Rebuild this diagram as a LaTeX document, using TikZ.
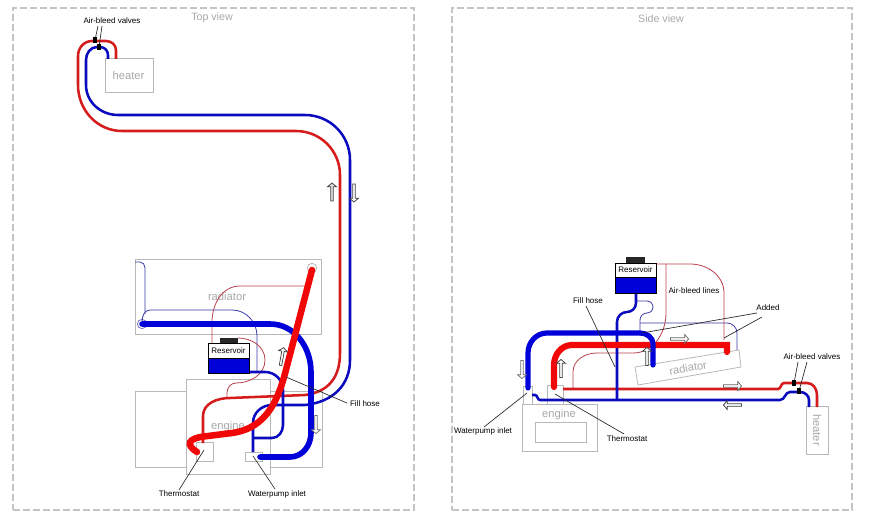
\documentclass[tikz,border=0pt]{standalone}
\usepackage{fontspec}
\setmainfont{Liberation Sans}
\usetikzlibrary{fit,shapes.arrows}
\definecolor{hosered}{HTML}{D41C1C}
\definecolor{hoseblue}{HTML}{0A0ABE}
\definecolor{fatred}{HTML}{F00808}
\definecolor{fatblue}{HTML}{0000D8}
\definecolor{thinred}{HTML}{B8404A}
\definecolor{thinblue}{HTML}{3A3AA8}
\definecolor{boxgray}{HTML}{B8B8B8}
\definecolor{framegray}{HTML}{C4C4C4}
\definecolor{txtgray}{HTML}{A8A8A8}
\tikzset{
  frame/.style={draw=framegray,line width=1.05pt,dash pattern=on 5.3pt off 2.2pt},
  graybox/.style={draw=boxgray,line width=0.6pt,inner sep=0pt},
  graytext/.style={text=txtgray,font=\fontsize{8.4}{9}\selectfont,inner sep=0pt},
  title/.style={text=txtgray,font=\fontsize{8}{9}\selectfont,inner sep=0pt},
  lbl/.style={text=black,font=\fontsize{6}{7}\selectfont,inner sep=0pt},
  leader/.style={draw=black!85,line width=0.5pt},
  medred/.style={draw=hosered,line width=1.9pt},
  medblue/.style={draw=hoseblue,line width=1.9pt},
  thickred/.style={draw=fatred,line width=4.6pt,line cap=round},
  thickblue/.style={draw=fatblue,line width=3.9pt,line cap=round},
  thinr/.style={draw=thinred,line width=0.6pt},
  thinb/.style={draw=thinblue,line width=0.6pt},
  resbox/.style={draw=black,line width=0.7pt,inner sep=0pt,fill=white},
  resfill/.style={draw=black,line width=0.7pt,inner sep=0pt,fill=fatblue},
  reslid/.style={fill=black!85,inner sep=0pt},
  valve/.style={fill=black,inner sep=0pt,minimum width=2.4pt,minimum height=4.4pt},
  blockarrow/.style={single arrow,draw=black!75,fill=white,line width=0.55pt,inner sep=0pt,
    minimum height=13.5pt,minimum width=6.6pt,single arrow head extend=0.7pt,single arrow tip angle=100},
}
\begin{document}
\begin{tikzpicture}[x=0.75pt,y=-0.75pt]
\useasboundingbox (0,0) rectangle (882,520);
% frames
\node[frame,inner sep=0pt,fit={(13,8)(414,510)}] (leftframe) {};
\node[frame,inner sep=0pt,fit={(452,8)(852,510)}] (rightframe) {};
\node[title] (toptitle) at (212,18) {Top view};
\node[title] (sidetitle) at (661,19) {Side view};

% ---------- TOP VIEW
\node[graybox,fit={(105,58)(153,92)}] (heaterT) {};
\node[graytext] (heaterTl) at (128.5,75) {heater};
\node[graybox,fit={(135,259)(321,334)}] (radT) {};
\node[graytext] (radTl) at (227,296) {radiator};
\node[graybox,fit={(135,391)(186,467)}] (sideL) {};
\node[graybox,fit={(270,391)(322,467)}] (sideR) {};
\node[graybox,fit={(186,379)(270,474)}] (engT) {};
\node[graytext] (engTl) at (228,427) {engine};
\node[graybox,fit={(196,442)(213,461)}] (thermT) {};
\node[graybox,fit={(245,452)(262,461)}] (pumpT) {};
\node[draw=boxgray,line width=0.6pt,circle,minimum size=7pt,inner sep=0pt] (ventT) at (312,268) {};
\node[draw=thinblue!70,line width=0.6pt,circle,minimum size=7pt,inner sep=0pt] (drainT) at (142,324) {};

% thin lines
\draw[thinb] (135,262) -- (140,262) to[out=0,in=90] (145,268) -- (145,314);
\draw[thinb] (142,322) to[out=90,in=180] (150,310) -- (232,310) to[out=0,in=90] (257,336) -- (257,372);
\draw[thinr] (212,343) -- (212,322) to[out=90,in=180] (240,286) -- (305,286);
\draw[thinr] (238,338) to[out=0,in=90] (265,360) to[out=270,in=0] (236,383) to[out=180,in=90] (227,393) -- (227,398);

% hoses
\draw[medred] (116,59) -- (116,50) to[out=90,in=0] (106,41) -- (92,41) to[out=180,in=90] (78,56)
  -- (78,85) to[out=270,in=180] (122,131) -- (296,131) to[out=0,in=90] (340,175) -- (340,353)
  .. controls (340,378) and (328,392) .. (305,395) -- (230,398) to[out=180,in=90] (203,416) -- (203,443);
\draw[medblue] (108,59) -- (108,55) to[out=90,in=0] (100,47) -- (97,47) to[out=180,in=90] (86,60)
  -- (86,85) to[out=270,in=180] (118,115) -- (305,115) to[out=0,in=90] (350,160) -- (350,360)
  .. controls (350,385) and (333,402) .. (305,405) -- (272,405) to[out=180,in=90] (253,423) -- (253,452);
\draw[medblue] (250,372) -- (265,372) to[out=0,in=90] (283,390) -- (283,425) to[out=270,in=0] (272,438) -- (253,438);
\draw[thickblue,line width=4.2pt] (142,324) -- (270,324) to[out=0,in=90] (311,372) -- (311,433) to[out=270,in=0] (290,457) -- (260,457);
\draw[thickred,line width=4.9pt] (312,270) -- (287,366) .. controls (279,398) and (268,428) .. (232,433)
  -- (208,436) .. controls (186,438) and (186,445) .. (197,452);

% reservoir top view
\node[reslid,fit={(220,338)(238,343)}] (lidT) {};
\node[resfill,fit={(208,358)(249,373)}] (lowT) {};
\node[resbox,fit={(208,343)(249,358)}] (resT) {};
\node[lbl] (resTl) at (228.5,351) {Reservoir};

% valves top
\node[valve] (v1T) at (95,40) {};
\node[valve] (v2T) at (99,47) {};
\node[lbl] (abvT) at (112,21) {Air-bleed valves};
\draw[leader] (98,26) -- (v1T);
\draw[leader] (102,26) -- (v2T);

% labels top
\node[lbl] (thermTl) at (179,494) {Thermostat};
\node[lbl] (pumpTl) at (277,494) {Waterpump inlet};
\node[lbl] (fillTl) at (365,404) {Fill hose};
\coordinate (thermTp) at (204,450);
\coordinate (pumpTp) at (253,456);
\coordinate (fillTp) at (286,377);
\coordinate (fillTe) at (347,403);
\draw[leader] (thermTp) -- (179,490);
\draw[leader] (pumpTp) -- (275,489);
\draw[leader] (fillTp) -- (fillTe);

% arrows top
\node[blockarrow,rotate=90,fill=black!12] (a1) at (332,192.5) {};
\node[blockarrow,rotate=-90] (a2) at (354,192.5) {};
\node[blockarrow,rotate=80] (a3) at (282,357) {};
\node[blockarrow,rotate=-90,draw=black!55] (a4) at (316,424) {};

% ---------- SIDE VIEW
\node[graybox,fit={(806,406)(828,454)}] (heaterS) {};
\node[graytext,rotate=-90] (heaterSl) at (817,430) {heater};
\node[graybox,fit={(522,404)(597,451)}] (engS) {};
\node[graybox,fit={(535,422)(586,442)}] (engIn) {};
\node[graytext] (engSl) at (559,415) {engine};
\node[graybox,fit={(523,386)(532,404)}] (pumpS) {};
\node[graybox,fit={(547,385)(563,404)}] (thermS) {};
\draw[draw=boxgray,line width=0.6pt] (635,367) -- (739,350) -- (741,367) -- (638,385) -- cycle;
\node[graytext,rotate=10] (radSl) at (688,368) {radiator};

% thin
\draw[thinb] (637,301) -- (647,301) to[out=0,in=90] (653,307) to[out=270,in=0] (647,313) to[out=180,in=90] (640,320) -- (640,333);
\draw[thinb] (640,323) -- (727,323) to[out=0,in=90] (737,333) -- (737,350);
\draw[thinr] (656,264) -- (690,264) to[out=0,in=90] (724,293) -- (724,340);
\draw[thinr] (666,264) -- (666,313) to[out=270,in=0] (633,353) -- (597,353) to[out=180,in=90] (573,372) -- (573,389);

% medium
\draw[medred] (563,389) -- (778,389) to[out=0,in=180] (784,383) -- (807,383) to[out=0,in=90] (817,395) -- (817,407);
\draw[medblue] (532,395) -- (535,395) to[out=0,in=180] (540,400) -- (780,400) to[out=0,in=180] (790,392) -- (800,392) to[out=0,in=90] (809,400) -- (809,407);
\draw[medblue] (636,293) -- (636,303) to[out=270,in=0] (627,312) to[out=180,in=90] (617,322) -- (617,400);

\draw[thickred] (727,352) -- (727,345) -- (572,345) to[out=180,in=90] (554,365) -- (554,387);
\draw[thickblue] (653,365) -- (653,344) to[out=90,in=0] (640,333) -- (547,333) to[out=180,in=90] (528,353) -- (528,388);

% reservoir side
\node[reslid,fit={(626,257)(645,263)}] (lidS) {};
\node[resfill,fit={(615,277)(656,293)}] (lowS) {};
\node[resbox,fit={(615,263)(656,277)}] (resS) {};
\node[lbl] (resSl) at (635.5,270) {Reservoir};

% valves side
\node[valve] (v1S) at (794,383) {};
\node[valve] (v2S) at (799,391) {};
\node[lbl] (abvS) at (812,357) {Air-bleed valves};
\draw[leader] (798,362) -- (v1S);
\draw[leader] (807,362) -- (v2S);

% labels side
\node[lbl] (pumpSl) at (483,431) {Waterpump inlet};
\node[lbl] (thermSl) at (627,439) {Thermostat};
\node[lbl] (fillSl) at (588,301) {Fill hose};
\node[lbl] (ablS) at (694,291) {Air-bleed lines};
\node[lbl] (addS) at (768,308) {Added};
\coordinate (pumpSp) at (527,393);
\coordinate (thermSp) at (555,394);
\coordinate (fillSp) at (615,367);
\coordinate (addA) at (642,333);
\coordinate (addB) at (724,338);
\draw[leader] (pumpSp) -- (484,427);
\draw[leader] (thermSp) -- (624,434);
\draw[leader] (586,306) -- (fillSp);
\draw[leader] (757,313) -- (addA);
\draw[leader] (762,317) -- (addB);

% arrows side
\node[blockarrow,rotate=90] (b1) at (561,369) {};
\node[blockarrow,rotate=90] (b2) at (647,357) {};
\node[blockarrow,rotate=-90,draw=black!55] (b3) at (522,369) {};
\node[blockarrow,draw=black!60] (b4) at (679,339) {};
\node[blockarrow,draw=black!60] (b5) at (732,386) {};
\node[blockarrow,rotate=180] (b6) at (733,405) {};
\end{tikzpicture}
\end{document}
